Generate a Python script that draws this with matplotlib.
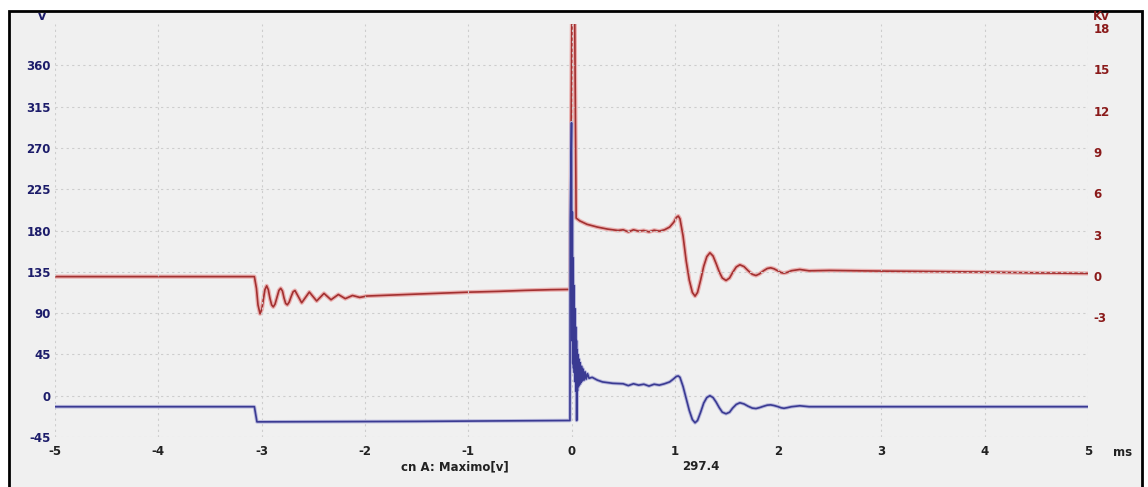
import matplotlib

matplotlib.use("Agg")
import matplotlib.pyplot as plt
import matplotlib.transforms as mtransforms
from matplotlib.patches import Rectangle

# channel A, volts (left axis)
t_blue = [
    -5.0, -3.07, -3.045, -1.5, -0.015, -0.012, 0.0,
    0.004, 0.008, 0.012, 0.016, 0.02, 0.024, 0.028, 0.032, 0.036, 0.04,
    0.044, 0.048, 0.05, 0.053, 0.057, 0.062, 0.067, 0.072, 0.078, 0.084,
    0.09, 0.097, 0.105, 0.113, 0.122, 0.132, 0.142, 0.155, 0.17, 0.2,
    0.25, 0.3, 0.4, 0.5, 0.55, 0.6, 0.65, 0.7, 0.75, 0.8, 0.85, 0.9,
    0.95, 0.99, 1.015, 1.034, 1.05, 1.08, 1.11, 1.14, 1.17, 1.196, 1.22,
    1.25, 1.28, 1.31, 1.34, 1.37, 1.40, 1.43, 1.46, 1.496, 1.53, 1.56,
    1.595, 1.63, 1.67, 1.71, 1.75, 1.786, 1.82, 1.86, 1.895, 1.928, 1.96,
    2.0, 2.03, 2.057, 2.09, 2.13, 2.21, 2.3, 3.0, 5.0,
]
v_blue = [
    -12, -12, -28.5, -28, -27, 190, 297.4,
    60, 200, 35, 150, 30, 120, 25, 95, 15, 75,
    5, 60, -27, 50, 5, 45, 10, 40, 12, 36,
    14, 32, 16, 29, 17, 26, 18, 24, 19, 20,
    17, 15, 13.5, 13, 11, 13, 11.5, 12.5, 10.5, 12.5, 11.5, 13,
    15, 18.5, 21, 21.5, 20, 10, -3, -16, -26, -29.5, -27,
    -18, -8, -2, 0, -2, -7, -13, -18, -19.7, -18, -13.5,
    -9.5, -7.7, -9, -11.5, -13.5, -14, -13, -11.5, -10.3, -10, -10.7,
    -12, -13.2, -13.7, -13, -12, -11, -12, -12, -12,
]

# secondary trace, kV (right axis)
t_red = [
    -5.0, -3.07, -3.05, -3.035, -3.015, -2.997, -2.983, -2.968, -2.951,
    -2.935, -2.92, -2.903, -2.887, -2.87, -2.851, -2.832, -2.815, -2.798,
    -2.783, -2.767, -2.751, -2.733, -2.714, -2.695, -2.677, -2.612,
    -2.538, -2.467, -2.396, -2.328, -2.257, -2.19, -2.12, -2.05,
    -1.98, -1.5, -1.0, -0.7, -0.45, -0.2, -0.015, 0.005, 0.03, 0.045,
    0.08, 0.15, 0.25, 0.35, 0.45, 0.5, 0.55, 0.6, 0.65, 0.7, 0.75, 0.8,
    0.85, 0.9, 0.95, 0.99, 1.015, 1.034, 1.05, 1.08, 1.11, 1.14, 1.17,
    1.196, 1.22, 1.25, 1.28, 1.31, 1.34, 1.37, 1.40, 1.43, 1.46, 1.496,
    1.53, 1.56, 1.595, 1.63, 1.67, 1.71, 1.75, 1.786, 1.82, 1.86, 1.895,
    1.928, 1.96, 2.0, 2.03, 2.057, 2.09, 2.13, 2.21, 2.3, 2.5, 3.0, 3.5,
    4.0, 4.5, 5.0,
]
kv_red = [
    -0.35, -0.35, -1.2, -2.4, -3.05, -2.7, -2.0, -1.3, -1.02,
    -1.3, -1.9, -2.4, -2.55, -2.35, -1.85, -1.35, -1.2, -1.4,
    -1.9, -2.3, -2.4, -2.2, -1.8, -1.45, -1.36, -2.25,
    -1.47, -2.12, -1.57, -2.03, -1.65, -1.95, -1.72, -1.86,
    -1.76, -1.62, -1.48, -1.42, -1.35, -1.3, -1.28, 19.5, 19.5, 3.9,
    3.7, 3.45, 3.25, 3.1, 3.0, 3.05, 2.9, 3.05, 2.95, 3.0, 2.9, 3.02,
    2.95, 3.05, 3.25, 3.6, 3.95, 4.05, 3.85, 2.6, 0.8, -0.6, -1.5,
    -1.77, -1.5, -0.6, 0.4, 1.1, 1.38, 1.15, 0.6, 0.0, -0.45, -0.63,
    -0.45, -0.05, 0.35, 0.51, 0.38, 0.08, -0.18, -0.27, -0.15, 0.08, 0.24,
    0.29, 0.22, 0.06, -0.06, -0.1, -0.04, 0.08, 0.17, 0.07, 0.1, 0.05, 0.02,
    -0.02, -0.08, -0.12,
]

x_ticks = list(range(-5, 6))
v_ticks = list(range(-45, 361, 45))
kv_ticks = list(range(-3, 19, 3))

BG = "#f0f0f0"
NAVY = "#1c1c6a"
DARKRED = "#8a1a1a"
GRID = "#cdcdcd"
LABEL_SIZE = 8.5

plt.rcParams["font.family"] = ["DejaVu Sans"]

fig = plt.figure(figsize=(11.48, 4.87), dpi=100, facecolor="white")
fig.patches.append(
    Rectangle(
        (9 / 1148, -0.01), 1133 / 1148, 1 - 11 / 487 + 0.01,
        transform=fig.transFigure, facecolor=BG, edgecolor="black",
        linewidth=2, zorder=-5,
    )
)

ax = fig.add_axes([55 / 1148, 1 - 437 / 487, 1033 / 1148, 413 / 487])
ax2 = ax.twinx()
ax.set_zorder(2)
ax2.set_zorder(1)
ax.patch.set_visible(False)
ax2.patch.set_visible(False)

ax.set_xlim(-5, 5)
ax.set_ylim(-45, 405)
ax2.set_ylim(-12, 18)

ax.grid(True, color=GRID, linestyle=(0, (2, 3)), linewidth=0.8)

ax2.plot(t_red, kv_red, color="#eab0b0", linewidth=3.0, solid_joinstyle="round")
ax2.plot(t_red, kv_red, color="#a23030", linewidth=1.2)
ax.plot(t_blue, v_blue, color="#b8b8dc", linewidth=2.6, solid_joinstyle="round")
ax.plot(t_blue, v_blue, color="#3a3a92", linewidth=1.2)

for a in (ax, ax2):
    for side in ("top", "bottom", "left", "right"):
        a.spines[side].set_visible(False)
    a.tick_params(length=0)

ax.set_xticks(x_ticks)
ax.set_xticklabels([str(v) for v in x_ticks], fontsize=LABEL_SIZE,
                   fontweight="bold", color="#222222")
ax.tick_params(axis="x", pad=6)
ax.set_yticks(v_ticks)
ax.set_yticklabels([str(v) for v in v_ticks], fontsize=LABEL_SIZE,
                   fontweight="bold", color=NAVY)
ax.tick_params(axis="y", pad=3)
ax2.set_yticks(kv_ticks)
ax2.set_yticklabels([str(v) for v in kv_ticks], fontsize=LABEL_SIZE,
                    fontweight="bold", color=DARKRED)
ax2.tick_params(axis="y", pad=4)
shift = mtransforms.ScaledTranslation(0, -0.04, fig.dpi_scale_trans)
for lab in ax2.get_yticklabels():
    lab.set_transform(lab.get_transform() + shift)

fig.text(42 / 1148, 1 - 17 / 487, "v", color=NAVY, fontsize=9, fontweight="bold",
         ha="center", va="center")
fig.text(1093 / 1148, 1 - 16 / 487, "Kv", color=DARKRED, fontsize=LABEL_SIZE,
         fontweight="bold", ha="left", va="center")
fig.text(1113 / 1148, 1 - 453 / 487, "ms", color="#222222", fontsize=LABEL_SIZE,
         fontweight="bold", ha="left", va="center")
fig.text(455 / 1148, 1 - 467 / 487, "cn A: Maximo[v]", color="#222222",
         fontsize=LABEL_SIZE, fontweight="bold", ha="center", va="center")
fig.text(701 / 1148, 1 - 467 / 487, "297.4", color="#222222",
         fontsize=LABEL_SIZE, fontweight="bold", ha="center", va="center")

fig.savefig("out.png", dpi=100, facecolor=fig.get_facecolor())
